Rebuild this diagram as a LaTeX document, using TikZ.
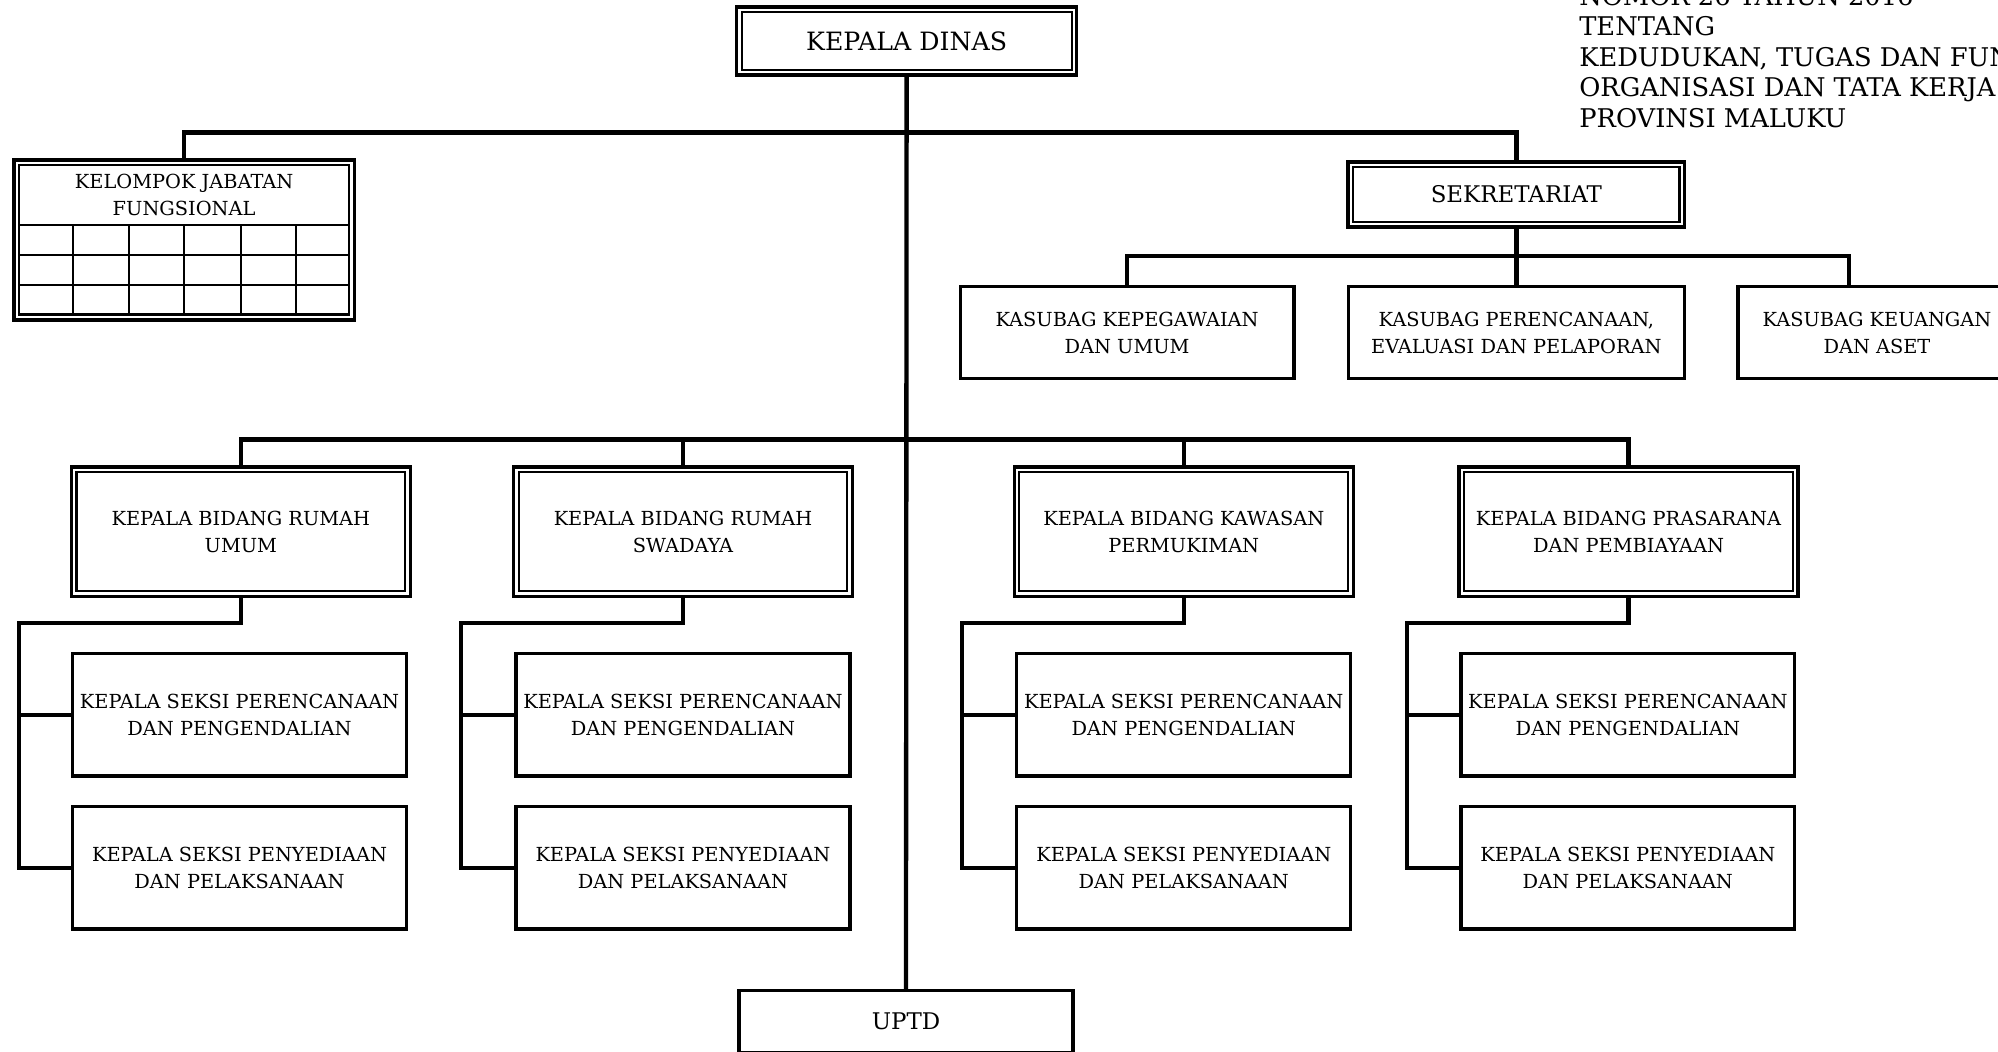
\documentclass[tikz,border=0pt]{standalone}
\usepackage{fontspec}
\setmainfont{DejaVu Serif}
\usetikzlibrary{calc}

\tikzset{
  conn/.style={line width=1.7pt, line join=miter},
  orgtext/.style={align=center, inner sep=0pt, outer sep=0pt,
    font=\fontsize{7.6}{10.6}\selectfont},
  singlebox/.style={orgtext, draw, line width=1.25pt},
  doublebox/.style={orgtext, draw, line width=1.35pt},
  innerline/.style={line width=0.85pt},
  gridline/.style={line width=1.05pt},
  headline/.style={anchor=base west, inner sep=0pt,
    font=\fontsize{10.1}{12}\selectfont},
}

\begin{document}
\begin{tikzpicture}[x=0.5pt, y=-0.5pt]
\useasboundingbox (0,0) rectangle (1568,825);
\clip (0,0) rectangle (1568,825);
\fill[white] (0,0) rectangle (1568,825);

% heading at the upper right
\node[headline] (hd1) at (1239,4)   {NOMOR 26 TAHUN 2016};
\node[headline] (hd2) at (1239,28)  {TENTANG};
\node[headline] (hd3) at (1239,52)  {KEDUDUKAN, TUGAS DAN FUN};
\node[headline] (hd4) at (1239,76)  {ORGANISASI DAN TATA KERJA};
\node[headline] (hd5) at (1239,100) {PROVINSI MALUKU};

% head of office
\node[doublebox, minimum width=133.5pt, minimum height=26.75pt,
      font=\fontsize{9.9}{12}\selectfont] (kd) at (711.5,32.25) {KEPALA DINAS};

% functional group with its grid
\node[draw, line width=1.35pt, minimum width=133.5pt, minimum height=62.7pt,
      inner sep=0pt] (kjf) at (144.5,188.3) {};
\node[orgtext] (kjft) at (144.5,153) {KELOMPOK JABATAN\\FUNGSIONAL};
\draw[innerline] (15.2,129.8) rectangle (273.8,246.8);
\foreach \yy in {176.6,200,223.7}
  \draw[gridline] (15.2,\yy) -- (273.8,\yy);
\foreach \xx in {57.3,101.3,144.4,189.2,232.3}
  \draw[gridline] (\xx,176.6) -- (\xx,246.8);

% secretariat and its sub-sections
\node[doublebox, minimum width=132pt, minimum height=25.5pt,
      font=\fontsize{9}{12}\selectfont] (sek) at (1190,152.5) {SEKRETARIAT};
\node[singlebox, minimum width=131pt, minimum height=36pt] (ka1) at (884.5,261)
  {KASUBAG KEPEGAWAIAN\\DAN UMUM};
\node[singlebox, minimum width=132pt, minimum height=36pt] (ka2) at (1190,261)
  {KASUBAG PERENCANAAN,\\EVALUASI DAN PELAPORAN};
\node[singlebox, minimum width=109pt, minimum height=36pt] (ka3) at (1473,261)
  {KASUBAG KEUANGAN\\DAN ASET};

% fields
\node[doublebox, minimum width=133pt, minimum height=50.75pt] (b1) at (189,417.25)
  {KEPALA BIDANG RUMAH\\UMUM};
\node[doublebox, minimum width=133pt, minimum height=50.75pt] (b2) at (536,417.25)
  {KEPALA BIDANG RUMAH\\SWADAYA};
\node[doublebox, minimum width=133pt, minimum height=50.75pt] (b3) at (929,417.25)
  {KEPALA BIDANG KAWASAN\\PERMUKIMAN};
\node[doublebox, minimum width=133pt, minimum height=50.75pt] (b4) at (1278,417.25)
  {KEPALA BIDANG PRASARANA\\DAN PEMBIAYAAN};

% sections under each field
\foreach \i/\cx in {1/188,2/536,3/929,4/1277.5} {
  \node[singlebox, minimum width=131pt, minimum height=48pt] (sa\i) at (\cx,561)
    {KEPALA SEKSI PERENCANAAN\\DAN PENGENDALIAN};
  \node[singlebox, minimum width=131pt, minimum height=48pt] (sb\i) at (\cx,681)
    {KEPALA SEKSI PENYEDIAAN\\DAN PELAKSANAAN};
}

% technical unit
\node[singlebox, minimum width=131pt, minimum height=24.5pt,
      font=\fontsize{9}{12}\selectfont] (uptd) at (711,801.5) {UPTD};

% inner frames of the double-ruled boxes
\foreach \n in {kd,sek,b1,b2,b3,b4}
  \draw[innerline] ([shift={(2pt,-2pt)}]\n.north west)
    rectangle ([shift={(-2pt,2pt)}]\n.south east);

% connectors
\coordinate (bus1) at (711,104);
\coordinate (bus2) at (1190,201);
\coordinate (bus3) at (711,345);
\draw[conn] (kd.south) -- (uptd.north);
\draw[conn] (kjf.north) |- (bus1) -| (sek.north);
\draw[conn] (sek.south) -- (ka2.north);
\draw[conn] (ka1.north) |- (bus2) -| ([xshift=43.5pt]ka3.north west);
\draw[conn] (b1.north) |- (bus3) -| (b4.north);
\draw[conn] (b2.north) -- (b2.north |- bus3);
\draw[conn] (b3.north) -- (b3.north |- bus3);
\foreach \i/\lx in {1/15,2/362,3/755,4/1104} {
  \coordinate (sp\i) at (\lx,489);
  \draw[conn] (b\i.south) |- (sp\i) |- (sb\i.west);
  \draw[conn] (sp\i |- sa\i.west) -- (sa\i.west);
}
\end{tikzpicture}
\end{document}
